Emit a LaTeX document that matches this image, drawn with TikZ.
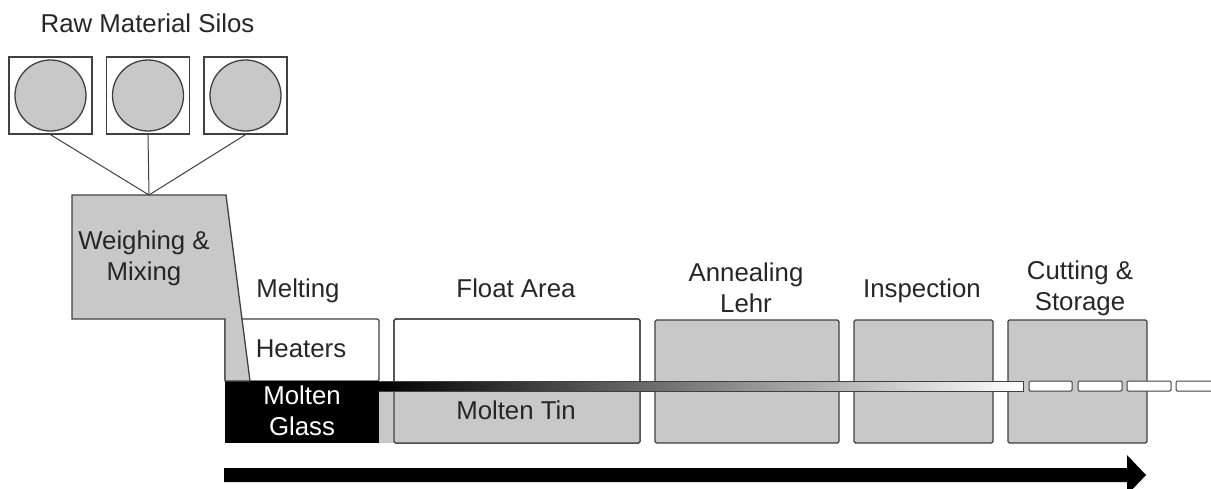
\documentclass[tikz,border=0pt]{standalone}
\usepackage{fontspec}
\setmainfont{Liberation Sans}
\definecolor{boxgrey}{RGB}{200,200,200}
\definecolor{edge}{RGB}{64,64,64}
\definecolor{ink}{RGB}{38,38,38}
\begin{document}
\begin{tikzpicture}[x=1pt,y=-1pt,
  line/.style={draw=edge,line width=1.3pt},
  link/.style={draw=edge,line width=1pt},
  greybox/.style={line,fill=boxgrey,rounded corners=1.5pt},
  whitebox/.style={line,fill=white,rounded corners=1.5pt},
  silobox/.style={line,fill=white,minimum width=83pt,minimum height=77pt,inner sep=0pt},
  silodisc/.style={circle,line,fill=boxgrey,minimum size=71pt,inner sep=0pt},
  lbl/.style={text=ink,font=\fontsize{25.8}{30.5}\selectfont,align=center,inner sep=0pt,anchor=base},
  dashpiece/.style={draw=edge,line width=1pt,fill=white,rounded corners=1.2pt}]
\useasboundingbox (0,0) rectangle (1211,488);

% raw material silos
\node[silobox] (s1) at (50.5,95.5) {};
\node[silobox] (s2) at (148,95.5) {};
\node[silobox] (s3) at (245.5,95.5) {};
\node[silodisc] (c1) at (s1) {};
\node[silodisc] (c2) at (s2) {};
\node[silodisc] (c3) at (s3) {};
\node[lbl] (tsilos) at (147.5,32) {Raw Material Silos};

% feed lines into the weighing hopper
\coordinate (inlet) at (149,195);
\draw[link] (s1.south) -- (inlet);
\draw[link] (s2.south) -- (inlet);
\draw[link] (s3.south) -- (inlet);

% melting furnace: heater space and molten glass pool
\draw[whitebox] (225,319) rectangle (379,381);
\fill[black] (225,381) rectangle (379,443);

% weighing and mixing hopper with its chute
\draw[line,fill=boxgrey,line join=miter]
  (72,195) -- (226,195) -- (250,381) -- (225,381) -- (225,319) -- (72,319) -- cycle;

% float bath
\draw[whitebox] (394,319) rectangle (640,443);
\fill[boxgrey] (379,391) rectangle (640,443);
\draw[line,rounded corners=1.5pt] (394,319) rectangle (640,443);

% annealing lehr, inspection, cutting and storage
\draw[greybox] (655,320) rectangle (839,443);
\draw[greybox] (854,320) rectangle (993,443);
\draw[greybox] (1008,320) rectangle (1147,443);

% continuous glass ribbon cooling from black to white
\shade[left color=black,right color=white] (379,381) rectangle (1023,391);
\draw[draw=edge,line width=1pt] (379,381) -- (1023,381) -- (1023,391) -- (379,391);

% ribbon cut into sheets
\draw[dashpiece] (1029,381) rectangle (1072,391);
\draw[dashpiece] (1078,381) rectangle (1122,391);
\draw[dashpiece] (1127,381) rectangle (1171,391);
\draw[dashpiece] (1176,381) rectangle (1216,391);

% labels (multi-line labels are placed by the baseline of their last line)
\node[lbl] (tweigh) at (144,280) {Weighing \&\\Mixing};
\node[lbl] (tmelt) at (298,297) {Melting};
\node[lbl] (theat) at (301,357) {Heaters};
\node[lbl,text=white] (tglass) at (302,435) {Molten\\Glass};
\node[lbl] (tfloat) at (516,297) {Float Area};
\node[lbl] (ttin) at (516,419) {Molten Tin};
\node[lbl] (tlehr) at (746,312) {Annealing\\Lehr};
\node[lbl] (tinsp) at (922,297) {Inspection};
\node[lbl] (tcut) at (1080,310) {Cutting \&\\Storage};

% process direction arrow
\fill[black] (224,468) -- (1127,468) -- (1127,455) -- (1146,475) -- (1127,495) -- (1127,482) -- (224,482) -- cycle;
\end{tikzpicture}
\end{document}
